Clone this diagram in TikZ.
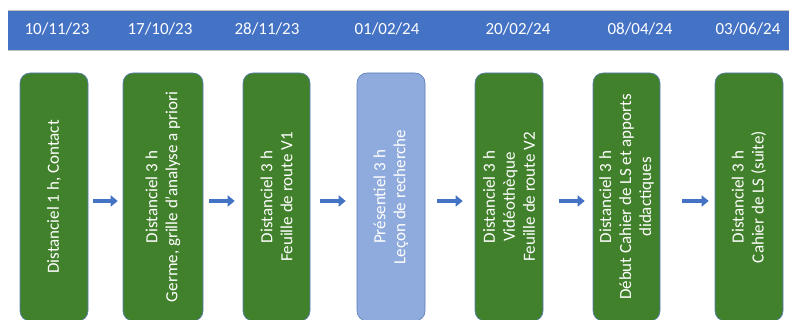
\documentclass[tikz,border=0pt]{standalone}
\usepackage{fontspec}
\setmainfont{Carlito}
\usetikzlibrary{arrows.meta,positioning}
\definecolor{tlblue}{HTML}{4472C4}
\definecolor{tlgreen}{HTML}{42812C}
\definecolor{tllight}{HTML}{8FAADC}
\definecolor{tledge}{HTML}{5A7DB9}

\begin{document}
\begin{tikzpicture}[x=1pt,y=1pt,
  every node/.style={font=\fontsize{17}{20}\selectfont,text=white},
  session/.style={draw=tledge,line width=0.6pt,fill=tlgreen,rounded corners=10pt,rotate=90,
    minimum width=248pt,inner sep=0pt,align=center},
  datum/.style={anchor=center},
  link/.style={draw=tlblue,line width=4.5pt,-{Triangle[length=7pt,width=11pt]}}]
  \useasboundingbox (0,0) rectangle (789,320);
  \clip (0,0) rectangle (789,320);
  % date banner
  \fill[tlblue] (8,270) rectangle (795,310);
  \draw[black!25,line width=0.6pt] (8,310) -- (795,310) (8,270) -- (795,270);
  \foreach \x/\d [count=\i] in {57/{10/11/23},160/{17/10/23},267/{28/11/23},387/{01/02/24},518/{20/02/24},640/{08/04/24},748/{03/06/24}}
    \node[datum] (d\i) at (\x,291) {\d};
  % sessions
  \node[session,minimum height=68pt] (s1) at (54,123) {Distanciel 1 h, Contact};
  \node[session,minimum height=80pt] (s2) at (163,123) {Distanciel 3 h\\Germe, grille d'analyse a priori};
  \node[session,minimum height=67pt] (s3) at (276.5,123) {Distanciel 3 h\\Feuille de route V1};
  \node[session,minimum height=68pt,fill=tllight] (s4) at (391,123) {Présentiel 3 h\\Leçon de recherche};
  \node[session,minimum height=68pt] (s5) at (509,123) {Distanciel 3 h\\Vidéothèque\\Feuille de route V2};
  \node[session,minimum height=67pt] (s6) at (626.5,123) {Distanciel 3 h\\Début Cahier de LS et apports\\didactiques};
  \node[session,minimum height=68pt] (s7) at (749,123) {Distanciel 3 h\\Cahier de LS (suite)};
  % arrows between sessions
  \foreach \a/\b/\p/\q in {s1/s2/5/5,s2/s3/6/8,s3/s4/10/11,s4/s5/12/12,s5/s6/16/8,s6/s7/22/6}
    \draw[link,shorten <=\p pt,shorten >=\q pt] ([yshift=-4pt]\a.south) -- ([yshift=-4pt]\b.north);
\end{tikzpicture}
\end{document}
